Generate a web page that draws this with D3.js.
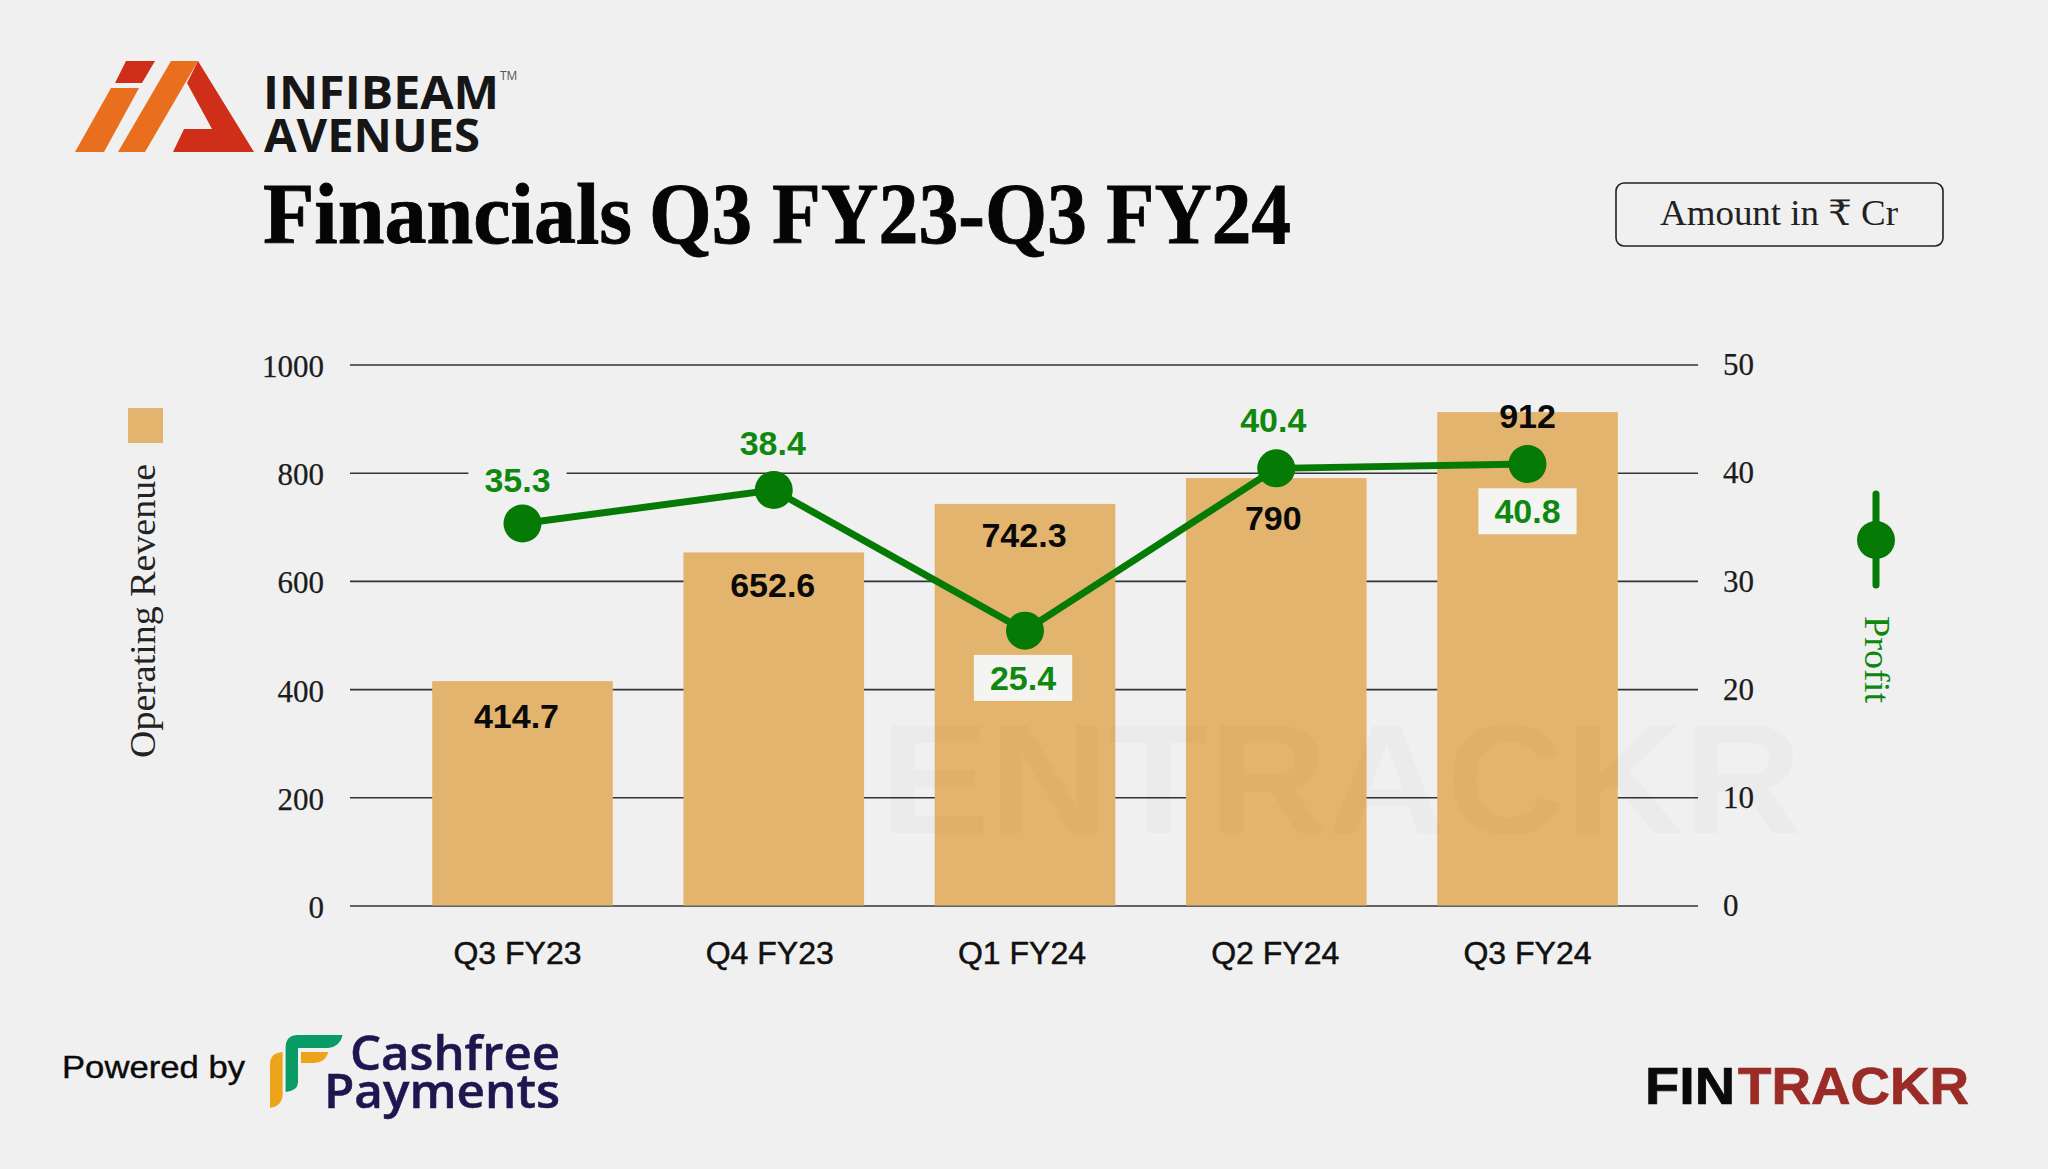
<!DOCTYPE html>
<html>
<head>
<meta charset="utf-8">
<title>Infibeam Avenues Financials</title>
<script src="https://cdn.jsdelivr.net/npm/d3@7"></script>
<style>
  html, body { margin: 0; padding: 0; background: #f0f0f0; }
  svg { display: block; }
  .sans { font-family: "Liberation Sans", Arial, sans-serif; }
  .serif { font-family: "Liberation Serif", "DejaVu Serif", serif; }
  .logo { font-family: "Open Sans", "Noto Sans", sans-serif; }
</style>
</head>
<body>
<svg id="chart" width="2048" height="1169"></svg>
<script>
  // ─── Data ────────────────────────────────────────────────────
  const quarters = ["Q3 FY23", "Q4 FY23", "Q1 FY24", "Q2 FY24", "Q3 FY24"];
  const revenue = [414.7, 652.6, 742.3, 790, 912];
  const profit = [35.3, 38.4, 25.4, 40.4, 40.8];
  const revenueTicks = [0, 200, 400, 600, 800, 1000];
  const profitTicks = [0, 10, 20, 30, 40, 50];

  // ─── Colours ─────────────────────────────────────────────────
  const BG = "#f0f0f0";
  const BAR = "#e3b46d";
  const GREEN = "#057a05";
  const GREEN_TEXT = "#0f880f";

  const svg = d3.select("#chart");
  svg.append("rect").attr("width", 2048).attr("height", 1169).attr("fill", BG);

  // ─── Scales ──────────────────────────────────────────────────
  const x = d3.scaleBand().domain(quarters).range([397, 1653]).paddingInner(0.281).paddingOuter(0.14);
  const yRev = d3.scaleLinear().domain([0, 1000]).range([905.5, 364.5]);
  const yProfit = d3.scaleLinear().domain([0, 50]).range([905.5, 364.5]);
  const cx = (q) => x(q) + x.bandwidth() / 2;

  // ─── Axes ────────────────────────────────────────────────────
  // right axis carries the gridlines, they run back across the plot
  const rightAxis = svg.append("g")
    .attr("transform", "translate(1698,0)")
    .call(d3.axisRight(yProfit).tickValues(profitTicks).tickSizeInner(-1348).tickSizeOuter(0).tickPadding(25));
  const leftAxis = svg.append("g")
    .attr("transform", "translate(350,0)")
    .call(d3.axisLeft(yRev).tickValues(revenueTicks).tickFormat(d3.format("d")).tickSize(0).tickPadding(26));

  [rightAxis, leftAxis].forEach((g) => {
    g.select(".domain").remove();
    g.attr("class", "serif");
    g.attr("font-family", null).attr("font-size", null);
    g.selectAll("text").attr("font-size", 31).attr("fill", "#1c1c1c")
      .attr("stroke", "#1c1c1c").attr("stroke-width", 0.25);
  });
  rightAxis.selectAll("text").attr("dy", "0.33em");
  leftAxis.selectAll("text").attr("dy", "0.39em");
  rightAxis.selectAll("line").attr("stroke", "#333").attr("stroke-width", 1.6);

  // ─── Bars ────────────────────────────────────────────────────
  svg.append("g").selectAll("rect")
    .data(quarters)
    .join("rect")
    .attr("x", (q) => x(q))
    .attr("width", x.bandwidth())
    .attr("y", (q, i) => yRev(revenue[i]))
    .attr("height", (q, i) => yRev(0) - yRev(revenue[i]))
    .attr("fill", BAR);

  // ─── Watermark ───────────────────────────────────────────────
  svg.append("text")
    .attr("class", "sans")
    .attr("x", 880).attr("y", 833)
    .attr("font-size", 155).attr("font-weight", 700)
    .attr("textLength", 922).attr("lengthAdjust", "spacingAndGlyphs")
    .attr("fill", "#000").attr("fill-opacity", 0.02)
    .text("ENTRACKR");

  // ─── Bottom axis ─────────────────────────────────────────────
  const xLabelShift = [-5, -4, -3, -1, 0];
  const bottomAxis = svg.append("g")
    .attr("transform", "translate(0,905.5)")
    .call(d3.axisBottom(x).tickSize(0).tickPadding(35.5));
  bottomAxis.select(".domain").remove();
  bottomAxis.attr("class", "sans").attr("font-family", null).attr("font-size", null);
  bottomAxis.selectAll("text")
    .attr("x", (d, i) => xLabelShift[i])
    .attr("font-size", 32).attr("fill", "#111")
    .attr("stroke", "#111").attr("stroke-width", 0.5);

  // ─── Profit line ─────────────────────────────────────────────
  const line = d3.line().x((d, i) => cx(quarters[i])).y((d) => yProfit(d));
  svg.append("path")
    .datum(profit)
    .attr("d", line)
    .attr("fill", "none")
    .attr("stroke", GREEN)
    .attr("stroke-width", 7);

  svg.append("g").selectAll("circle")
    .data(profit)
    .join("circle")
    .attr("cx", (d, i) => cx(quarters[i]))
    .attr("cy", (d) => yProfit(d))
    .attr("r", 19)
    .attr("fill", GREEN);

  // ─── Value labels ────────────────────────────────────────────
  // hand nudged per point, the source places these by eye
  const revLabelDy = [35, 32, 31, 40, 4];
  const revLabelDx = [-6, -1, -1, -3, 0];
  svg.append("g").attr("class", "sans").selectAll("text")
    .data(revenue)
    .join("text")
    .attr("x", (d, i) => cx(quarters[i]) + revLabelDx[i])
    .attr("y", (d, i) => yRev(d) + revLabelDy[i])
    .attr("dy", "0.36em")
    .attr("text-anchor", "middle")
    .attr("font-size", 34).attr("font-weight", 700)
    .attr("fill", "#0a0a0a")
    .text((d) => d);

  const profitLabelDy = [-44, -47, 47, -49, 47];
  const profitLabelDx = [-5, -1, -2, -3, 0];
  const profitBoxFill = [BG, null, "#f4f4f2", null, "#f4f4f2"];
  const profitLabels = svg.append("g").attr("class", "sans").selectAll("g")
    .data(profit)
    .join("g");
  profitLabels.append("text")
    .attr("x", (d, i) => cx(quarters[i]) + profitLabelDx[i])
    .attr("y", (d, i) => yProfit(d) + profitLabelDy[i])
    .attr("dy", "0.36em")
    .attr("text-anchor", "middle")
    .attr("font-size", 34).attr("font-weight", 700)
    .attr("fill", GREEN_TEXT)
    .text((d) => d);
  profitLabels.each(function (d, i) {
    if (!profitBoxFill[i]) return;
    const g = d3.select(this);
    const b = g.select("text").node().getBBox();
    g.insert("rect", "text")
      .attr("x", b.x - 16).attr("y", b.y - 4)
      .attr("width", b.width + 32).attr("height", b.height + 8)
      .attr("fill", profitBoxFill[i]);
  });

  // ─── Legend ──────────────────────────────────────────────────
  svg.append("rect").attr("x", 128).attr("y", 408).attr("width", 35).attr("height", 35).attr("fill", BAR);
  svg.append("text")
    .attr("class", "serif")
    .attr("transform", "translate(155,758) rotate(-90)")
    .attr("font-size", 36).attr("fill", "#222")
    .attr("textLength", 294).attr("lengthAdjust", "spacingAndGlyphs")
    .text("Operating Revenue");

  svg.append("line")
    .attr("x1", 1876).attr("x2", 1876).attr("y1", 494).attr("y2", 585)
    .attr("stroke", GREEN).attr("stroke-width", 7).attr("stroke-linecap", "round");
  svg.append("circle").attr("cx", 1876).attr("cy", 540).attr("r", 19).attr("fill", GREEN);
  svg.append("text")
    .attr("class", "serif")
    .attr("transform", "translate(1865,616) rotate(90)")
    .attr("font-size", 36).attr("fill", GREEN_TEXT)
    .attr("textLength", 87).attr("lengthAdjust", "spacingAndGlyphs")
    .text("Profit");

  // ─── Header ──────────────────────────────────────────────────
  const mark = svg.append("g");
  mark.append("path").attr("d", "M75 152L111 88H139L104 152Z").attr("fill", "#e96f1e");
  mark.append("path").attr("d", "M126 61H155L142 83H115Z").attr("fill", "#cf2f18");
  mark.append("path").attr("d", "M118 152L171 61H198L145 152Z").attr("fill", "#e96f1e");
  mark.append("path").attr("d", "M198 61L254 152H173L184 129H212L187 83Z").attr("fill", "#cf2f18");

  const brandText = [
    { t: "INFIBEAM", x: 263, y: 109, w: 236 },
    { t: "AVENUES", x: 264, y: 152, w: 216 },
  ];
  svg.append("g").attr("class", "logo").selectAll("text")
    .data(brandText)
    .join("text")
    .attr("x", (d) => d.x).attr("y", (d) => d.y)
    .attr("font-size", 47).attr("font-weight", 700).attr("fill", "#161616")
    .attr("textLength", (d) => d.w).attr("lengthAdjust", "spacingAndGlyphs")
    .text((d) => d.t);
  svg.append("text").attr("class", "logo")
    .attr("x", 500).attr("y", 80).attr("font-size", 12).attr("fill", "#555").text("TM");

  // title words are fitted one by one, the source face is wider than Liberation
  const titleWords = [
    { t: "Financials", x: 263, w: 369 },
    { t: "Q3", x: 649, w: 103 },
    { t: "FY23-Q3", x: 772, w: 315 },
    { t: "FY24", x: 1106, w: 185 },
  ];
  svg.append("g").attr("class", "serif").selectAll("text")
    .data(titleWords)
    .join("text")
    .attr("x", (d) => d.x).attr("y", 243)
    .attr("font-size", 86).attr("font-weight", 700).attr("fill", "#050505")
    .attr("stroke", "#050505").attr("stroke-width", 0.8)
    .attr("textLength", (d) => d.w).attr("lengthAdjust", "spacingAndGlyphs")
    .text((d) => d.t);

  svg.append("rect")
    .attr("x", 1616).attr("y", 183).attr("width", 327).attr("height", 63).attr("rx", 8)
    .attr("fill", "none").attr("stroke", "#222").attr("stroke-width", 1.6);
  svg.append("text")
    .attr("class", "serif")
    .attr("x", 1660).attr("y", 224.5)
    .attr("font-size", 35).attr("fill", "#222")
    .attr("textLength", 238).attr("lengthAdjust", "spacingAndGlyphs")
    .text("Amount in ₹ Cr");

  // ─── Footer ──────────────────────────────────────────────────
  svg.append("text")
    .attr("class", "sans")
    .attr("x", 62).attr("y", 1078)
    .attr("font-size", 32).attr("fill", "#0a0a0a")
    .attr("stroke", "#0a0a0a").attr("stroke-width", 0.4)
    .attr("textLength", 183).attr("lengthAdjust", "spacingAndGlyphs")
    .text("Powered by");

  const cf = svg.append("g");
  cf.append("path").attr("d", "M270 1064Q270 1053 282.6 1052V1095Q282 1106 270 1108Z").attr("fill", "#eda41b");
  cf.append("path").attr("d", "M285.6 1092V1047Q286 1035 298 1035H342.7Q340 1047 328 1048H298V1083Q297 1091 285.6 1092Z").attr("fill", "#0a9c66");
  cf.append("path").attr("d", "M301 1052H328.5Q325 1063 314 1063H301Z").attr("fill", "#eda41b");

  const cfText = [
    { t: "Cashfree", x: 350, y: 1070, w: 210 },
    { t: "Payments", x: 324, y: 1108, w: 236 },
  ];
  svg.append("g").attr("class", "logo").selectAll("text")
    .data(cfText)
    .join("text")
    .attr("x", (d) => d.x).attr("y", (d) => d.y)
    .attr("font-size", 47).attr("font-weight", 600).attr("fill", "#1f1650")
    .attr("stroke", "#1f1650").attr("stroke-width", 0.5)
    .attr("textLength", (d) => d.w).attr("lengthAdjust", "spacingAndGlyphs")
    .text((d) => d.t);

  const ftText = [
    { t: "FIN", x: 1645, w: 90, fill: "#0a0a0a" },
    { t: "TRACKR", x: 1738, w: 231, fill: "#9a2b26" },
  ];
  svg.append("g").attr("class", "sans").selectAll("text")
    .data(ftText)
    .join("text")
    .attr("x", (d) => d.x).attr("y", 1104)
    .attr("font-size", 51).attr("font-weight", 700).attr("fill", (d) => d.fill)
    .attr("stroke", (d) => d.fill).attr("stroke-width", 0.7)
    .attr("textLength", (d) => d.w).attr("lengthAdjust", "spacingAndGlyphs")
    .text((d) => d.t);
</script>
</body>
</html>
